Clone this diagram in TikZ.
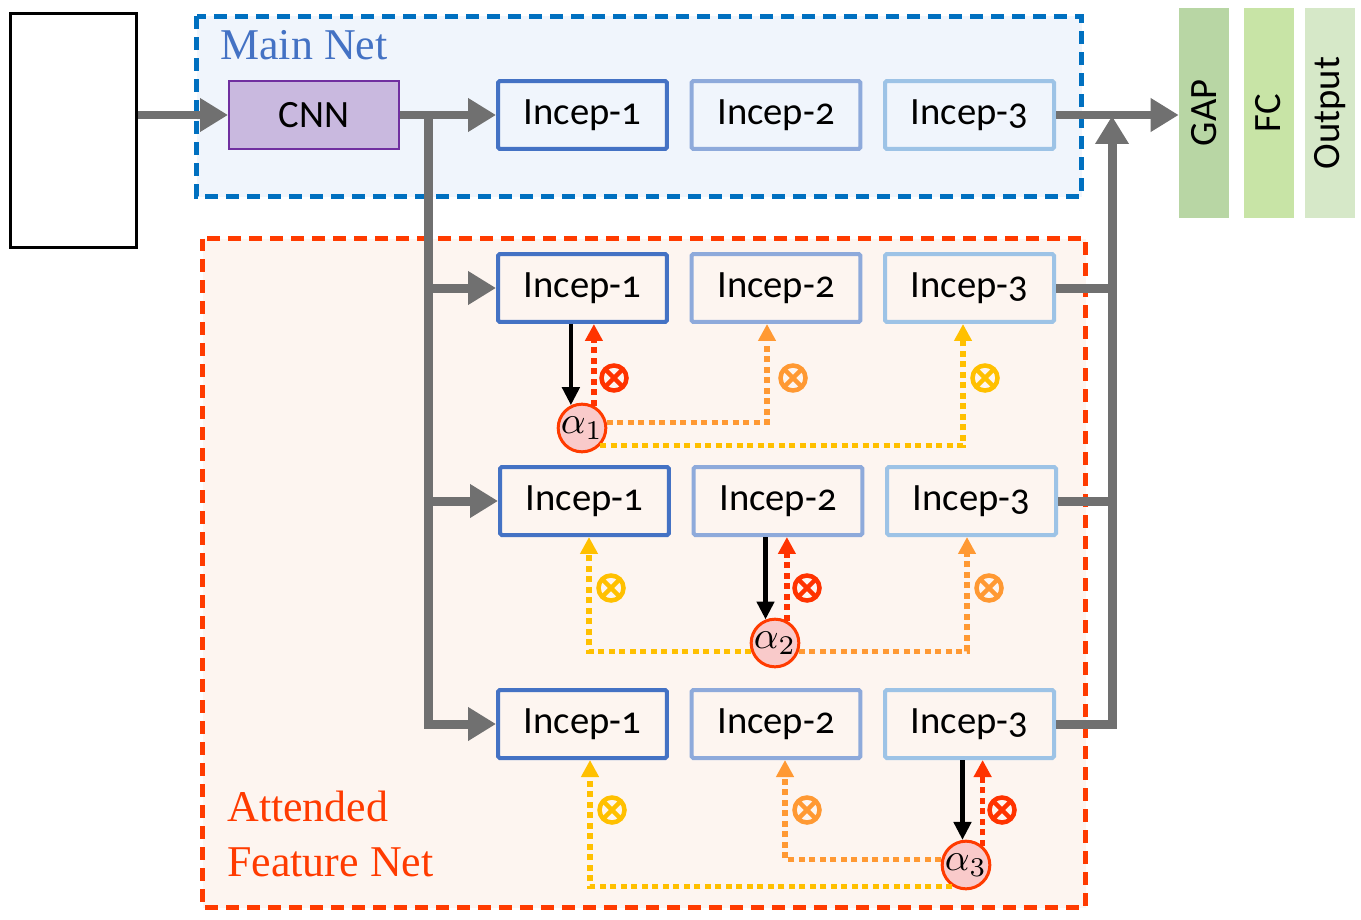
\documentclass[tikz,border=0pt]{standalone}
\usepackage{fontspec}
\usepackage{amsmath}
\usetikzlibrary{arrows.meta}
\newfontfamily\boxfont{Carlito}[Numbers=OldStyle]
\newfontfamily\netfont{Liberation Serif}
\definecolor{mainblue}{HTML}{0070C0}
\definecolor{mainfill}{HTML}{F0F5FC}
\definecolor{mainlabel}{HTML}{4472C4}
\definecolor{attred}{HTML}{FF3B00}
\definecolor{attfill}{HTML}{FDF5F0}
\definecolor{incepA}{HTML}{4472C4}
\definecolor{incepB}{HTML}{8EAADB}
\definecolor{incepC}{HTML}{9DC3E6}
\definecolor{cnnfill}{HTML}{C9B9DF}
\definecolor{cnnline}{HTML}{7030A0}
\definecolor{flowgray}{HTML}{707070}
\definecolor{wred}{HTML}{FF3300}
\definecolor{worange}{HTML}{FF9933}
\definecolor{wyellow}{HTML}{FFC000}
\definecolor{alphafill}{HTML}{F9CACA}
\definecolor{gapfill}{HTML}{B8D6A4}
\definecolor{fcfill}{HTML}{C8E4A6}
\definecolor{outfill}{HTML}{D6E8C8}
\newcommand{\wlabel}[1]{\scalebox{2.2}{$\alpha_{#1}$}}
\tikzset{
	% frames
	mainframe/.style={draw=mainblue, fill=mainfill, line width=0.1cm, dash pattern=on 0.26cm off 0.16cm},
	attframe/.style={draw=attred, fill=attfill, line width=0.1cm, dash pattern=on 0.26cm off 0.16cm},
	% blocks
	incep/.style={draw=#1, line width=0.08cm, rounded corners=1pt, minimum width=3.38cm, minimum height=1.36cm, inner sep=0pt, font=\boxfont\fontsize{22}{22}\selectfont},
	headbox/.style={fill=#1, minimum width=4.2cm, minimum height=1.0cm, rotate=90, inner sep=0pt, font=\boxfont\fontsize{22}{22}\selectfont},
	weight/.style={circle, draw=attred, fill=alphafill, line width=0.06cm, minimum size=0.86cm, inner sep=0pt},
	mult/.style={circle, draw=#1, line width=0.09cm, minimum size=0.5cm, inner sep=0pt,
		path picture={\draw[#1, line width=0.09cm] (path picture bounding box.north west) -- (path picture bounding box.south east) (path picture bounding box.north east) -- (path picture bounding box.south west);}},
	% lines
	flowline/.style={draw=flowgray, line width=0.18cm},
	flow/.style={flowline, -{Triangle[length=0.56cm, width=0.64cm]}},
	attn/.style={black, line width=0.09cm, -{Triangle[length=0.36cm, width=0.34cm]}},
	back/.style={#1, line width=0.11cm, dash pattern=on 0.12cm off 0.09cm, -{Triangle[length=0.34cm, width=0.34cm]}},
}
\begin{document}
\begin{tikzpicture}[x=0.02cm, y=-0.02cm]
	\useasboundingbox (0,0) rectangle (1361,919);

	\draw[mainframe] (196.5,16.5) rectangle (1081.5,196.5);
	\draw[attframe] (202.5,238.5) rectangle (1085.5,907.5);
	\node[anchor=base west, inner sep=0pt, text=mainlabel, font=\netfont\fontsize{25}{25}\selectfont] (mainlbl) at (220,60) {Main Net};
	\node[anchor=south west, inner sep=0pt, align=left, text=attred, font=\netfont\fontsize{25}{31}\selectfont] (attlbl) at (227,877) {Attended\\Feature Net};

	\node[draw, line width=0.06cm, minimum width=2.52cm, minimum height=4.68cm] (in) at (73.5,130.5) {};
	\node[draw=cnnline, fill=cnnfill, line width=0.04cm, minimum width=3.4cm, minimum height=1.36cm, font=\boxfont\fontsize{22}{22}\selectfont] (cnn) at (314,115) {CNN};

	% main net
	\node[incep=incepA] (m1) at (582.5,115) {Incep-1};
	\node[incep=incepB] (m2) at (776,115) {Incep-2};
	\node[incep=incepC] (m3) at (969.5,115) {Incep-3};
	% attended feature net
	\node[incep=incepA] (a1) at (582.5,288) {Incep-1};
	\node[incep=incepB] (a2) at (776,288) {Incep-2};
	\node[incep=incepC] (a3) at (969.5,288) {Incep-3};
	\node[incep=incepA] (b1) at (584.5,501) {Incep-1};
	\node[incep=incepB] (b2) at (778,501) {Incep-2};
	\node[incep=incepC] (b3) at (971.5,501) {Incep-3};
	\node[incep=incepA] (c1) at (582.5,724) {Incep-1};
	\node[incep=incepB] (c2) at (776,724) {Incep-2};
	\node[incep=incepC] (c3) at (969.5,724) {Incep-3};

	\node[headbox=gapfill] (gap) at (1204,113) {GAP};
	\node[headbox=fcfill] (fc) at (1268.5,113) {FC};
	\node[headbox=outfill] (out) at (1330,113) {Output};

	\coordinate (split) at (428,115);
	\coordinate (merge) at (1112,116);
	\draw[flow] (in.east |- cnn.west) -- (cnn.west);
	\draw[flow] (cnn.east) -- (m1.west);
	\draw[flow] (m3.east) -- (m3.east -| gap.north);
	\draw[flow] (split) |- (c1.west);
	\draw[flow] (split |- a1) -- (a1.west);
	\draw[flow] (split |- b1) -- (b1.west);
	\draw[flow] (c3.east) -| (merge);
	\draw[flowline] (a3.east) -- (a3.east -| merge);
	\draw[flowline] (b3.east) -- (b3.east -| merge);

	% attention weights
	\node[weight] (w1) at (582,428) {\wlabel{1}};
	\node[weight] (w2) at (775,643) {\wlabel{2}};
	\node[weight] (w3) at (966,865) {\wlabel{3}};

	\draw[attn] (w1.116 |- a1.south) -- (w1.116);
	\draw[back=wred] (w1.62) -- (w1.62 |- a1.south);
	\draw[back=worange] (w1.13) -| ([xshift=-0.18cm]a2.south);
	\draw[back=wyellow] (w1.-44) -| ([xshift=-0.13cm]a3.south);
	\node[mult=wred] (x11) at (614,378) {};
	\node[mult=worange] (x12) at (793,378) {};
	\node[mult=wyellow] (x13) at (985,378) {};

	\draw[attn] (w2.112 |- b2.south) -- (w2.112);
	\draw[back=wred] (w2.62) -- (w2.62 |- b2.south);
	\draw[back=wyellow] (w2.199) -| ([xshift=0.09cm]b1.south);
	\draw[back=worange] (w2.-19) -| ([xshift=-0.09cm]b3.south);
	\node[mult=wyellow] (x21) at (611,588) {};
	\node[mult=wred] (x22) at (807,588) {};
	\node[mult=worange] (x23) at (989,588) {};

	\draw[attn] (w3.98 |- c3.south) -- (w3.98);
	\draw[back=wred] (w3.49) -- (w3.49 |- c3.south);
	\draw[back=worange] (w3.167) -| ([xshift=0.18cm]c2.south);
	\draw[back=wyellow] (w3.237) -| ([xshift=0.15cm]c1.south);
	\node[mult=wyellow] (x31) at (612,810) {};
	\node[mult=worange] (x32) at (807,810) {};
	\node[mult=wred] (x33) at (1002,810) {};
\end{tikzpicture}
\end{document}
